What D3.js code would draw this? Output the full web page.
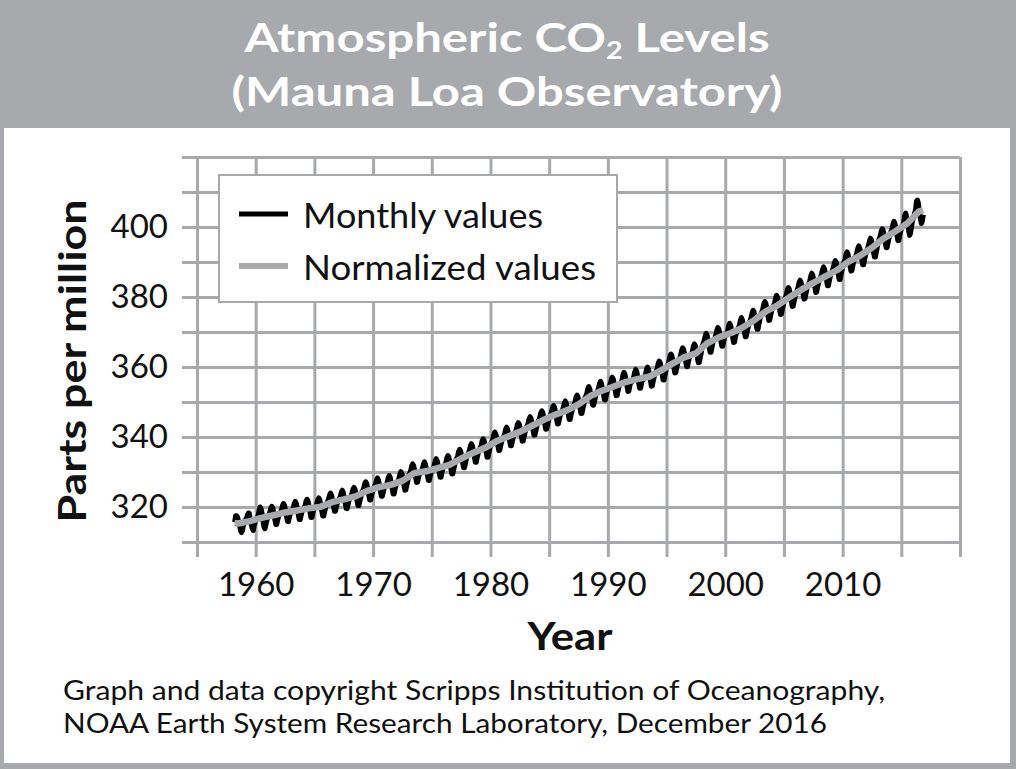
<!DOCTYPE html>
<html>
<head>
<meta charset="utf-8">
<script src="https://cdn.jsdelivr.net/npm/d3@7"></script>
<style>
  html, body { margin: 0; padding: 0; background: #fff; }
  svg { display: block; }
  text { font-family: Lato, "Open Sans", "DejaVu Sans", sans-serif; }
</style>
</head>
<body>
<svg id="chart" width="1016" height="769"></svg>
<script>
// ---------- DATA ----------
const titleLine1 = ["Atmospheric CO", "2", " Levels"];
const titleLine2 = "(Mauna Loa Observatory)";
const yAxisTitle = "Parts per million";
const xAxisTitle = "Year";
const footnoteLines = [
  "Graph and data copyright Scripps Institution of Oceanography,",
  "NOAA Earth System Research Laboratory, December 2016"
];
const legendLabels = ["Monthly values", "Normalized values"];

const gridYears = [1955,1960,1965,1970,1975,1980,1985,1990,1995,2000,2005,2010,2015,2020];
const xTickLabels = [1960,1970,1980,1990,2000,2010];
const gridPpm = [310,320,330,340,350,360,370,380,390,400,410,420];
const yTickLabels = [320,340,360,380,400];

// Monthly values, starting March 1958
const monthlyStartYear = 1958;
const monthlyStartMonth = 3;
const monthlyPpm = [
  315.7,317.5,317.5,317.1,315.9,314.9,313.2,312.7,313.3,314.7,
  315.6,316.4,316.7,317.7,318.3,318.2,316.5,314.8,313.8,313.3,314.8,315.6,
  316.4,317.0,317.6,319.0,320.0,319.6,318.2,315.9,314.2,313.8,315.0,316.2,
  317.3,317.8,318.6,319.7,320.2,319.7,318.4,316.5,315.0,315.0,316.3,317.3,
  318.1,318.7,319.4,320.5,321.0,320.5,319.2,317.3,315.9,315.8,317.1,318.1,
  318.7,319.2,319.9,321.1,321.6,321.0,319.8,317.8,316.4,316.4,317.6,318.7,
  319.3,319.8,320.5,321.7,322.2,321.7,320.4,318.5,317.0,317.0,318.3,319.3,
  319.7,320.2,321.0,322.1,322.6,322.1,320.8,318.9,317.4,317.4,318.7,319.7,
  321.1,321.6,322.3,323.4,324.0,323.4,322.1,320.2,318.8,318.8,320.0,321.1,
  321.8,322.4,323.1,324.2,324.8,324.2,322.9,321.0,319.6,319.5,320.8,321.9,
  322.7,323.2,324.0,325.1,325.6,325.1,323.8,321.9,320.4,320.4,321.7,322.7,
  324.3,324.8,325.5,326.7,327.2,326.7,325.4,323.5,322.0,322.0,323.3,324.3,
  325.4,325.9,326.6,327.7,328.3,327.7,326.4,324.5,323.1,323.1,324.3,325.4,
  325.7,326.3,327.1,328.4,329.0,328.5,327.1,325.2,323.7,323.7,325.1,326.3,
  326.9,327.5,328.3,329.5,330.1,329.6,328.3,326.3,324.8,324.9,326.2,327.4,
  329.1,329.7,330.5,331.8,332.3,331.8,330.5,328.5,327.0,327.1,328.4,329.6,
  329.6,330.2,331.0,332.3,332.9,332.3,331.0,329.1,327.6,327.6,328.9,330.1,
  330.5,331.1,331.9,333.2,333.8,333.3,331.9,330.0,328.5,328.5,329.9,331.1,
  331.4,332.0,332.8,334.1,334.7,334.2,332.9,330.9,329.4,329.4,330.8,332.0,
  333.3,333.9,334.6,335.9,336.5,336.0,334.7,332.7,331.2,331.2,332.6,333.8,
  334.8,335.4,336.2,337.5,338.1,337.5,336.2,334.3,332.8,332.8,334.2,335.3,
  336.3,336.9,337.6,338.9,339.5,339.0,337.7,335.7,334.2,334.2,335.6,336.8,
  338.2,338.8,339.6,340.8,341.4,340.9,339.6,337.6,336.1,336.2,337.5,338.7,
  339.5,340.1,340.9,342.2,342.8,342.3,340.9,339.0,337.5,337.5,338.9,340.1,
  340.9,341.5,342.3,343.6,344.1,343.6,342.3,340.3,338.8,338.9,340.2,341.4,
  342.6,343.2,344.0,345.2,345.8,345.3,344.0,342.0,340.5,340.6,341.9,343.1,
  344.3,344.9,345.7,346.9,347.5,347.0,345.7,343.7,342.2,342.3,343.6,344.8,
  345.8,346.4,347.2,348.4,349.0,348.5,347.2,345.2,343.7,343.8,345.1,346.3,
  347.0,347.6,348.4,349.7,350.3,349.7,348.4,346.5,345.0,345.0,346.4,347.5,
  348.7,349.3,350.1,351.4,352.0,351.4,350.1,348.2,346.7,346.7,348.1,349.2,
  351.1,351.7,352.5,353.8,354.4,353.8,352.5,350.6,349.1,349.1,350.4,351.6,
  352.6,353.2,354.0,355.3,355.9,355.3,354.0,352.1,350.6,350.6,352.0,353.1,
  353.9,354.5,355.3,356.5,357.1,356.6,355.3,353.3,351.8,351.9,353.2,354.4,
  354.9,355.6,356.4,357.8,358.5,357.9,356.6,354.6,353.0,353.1,354.6,355.8,
  355.7,356.4,357.3,358.6,359.3,358.8,357.4,355.4,353.9,353.9,355.4,356.7,
  356.4,357.1,357.9,359.3,360.0,359.4,358.1,356.1,354.5,354.6,356.1,357.3,
  358.1,358.8,359.7,361.0,361.7,361.2,359.8,357.8,356.3,356.3,357.8,359.1,
  360.2,360.8,361.7,363.1,363.7,363.2,361.9,359.8,358.3,358.4,359.8,361.1,
  361.9,362.6,363.5,364.8,365.5,365.0,363.6,361.6,360.1,360.1,361.6,362.9,
  363.1,363.7,364.6,366.0,366.6,366.1,364.8,362.7,361.2,361.3,362.7,364.0,
  366.0,366.7,367.6,368.9,369.6,369.1,367.7,365.7,364.2,364.2,365.7,367.0,
  367.7,368.4,369.3,370.6,371.3,370.8,369.4,367.4,365.9,365.9,367.4,368.7,
  368.9,369.6,370.4,371.8,372.5,371.9,370.6,368.6,367.0,367.1,368.6,369.8,
  370.5,371.2,372.0,373.4,374.1,373.5,372.2,370.2,368.6,368.7,370.2,371.4,
  372.6,373.3,374.2,375.5,376.2,375.7,374.3,372.3,370.8,370.8,372.3,373.6,
  375.2,375.8,376.7,378.1,378.7,378.2,376.9,374.8,373.3,373.4,374.8,376.1,
  376.9,377.6,378.4,379.8,380.5,379.9,378.6,376.6,375.0,375.1,376.6,377.8,
  379.2,379.8,380.7,382.1,382.7,382.2,380.9,378.8,377.3,377.4,378.8,380.1,
  381.3,381.9,382.8,384.2,384.8,384.3,383.0,380.9,379.4,379.5,380.9,382.2,
  383.2,383.9,384.7,386.1,386.8,386.2,384.9,382.9,381.3,381.4,382.9,384.1,
  385.0,385.7,386.6,387.9,388.6,388.1,386.7,384.7,383.2,383.2,384.7,386.0,
  386.8,387.5,388.4,389.7,390.4,389.9,388.5,386.5,385.0,385.0,386.5,387.8,
  389.3,390.0,390.8,392.2,392.9,392.3,391.0,389.0,387.4,387.5,389.0,390.2,
  391.0,391.7,392.6,393.9,394.6,394.1,392.7,390.7,389.2,389.2,390.7,392.0,
  393.2,393.9,394.8,396.1,396.8,396.3,394.9,392.9,391.4,391.4,392.9,394.2,
  395.9,396.6,397.5,398.8,399.5,399.0,397.6,395.6,394.1,394.1,395.6,396.9,
  398.0,398.7,399.5,400.9,401.6,401.0,399.7,397.7,396.1,396.2,397.7,398.9,
  400.0,400.3,401.5,403.3,404.0,402.8,401.3,398.9,397.6,398.3,400.2,401.9,
  402.5,404.0,404.8,407.4,407.7,406.8,404.4,402.3,401.0,401.6,403.5
];

// Normalized (seasonally adjusted) values
const normYears = [1958.2,1958.5,1959.5,1960.5,1961.5,1962.5,1963.5,1964.5,1965.5,1966.5,1967.5,1968.5,1969.5,
  1970.5,1971.5,1972.5,1973.5,1974.5,1975.5,1976.5,1977.5,1978.5,1979.5,1980.5,1981.5,1982.5,1983.5,1984.5,
  1985.5,1986.5,1987.5,1988.5,1989.5,1990.5,1991.5,1992.5,1993.5,1994.5,1995.5,1996.5,1997.5,1998.5,1999.5,
  2000.5,2001.5,2002.5,2003.5,2004.5,2005.5,2006.5,2007.5,2008.5,2009.5,2010.5,2011.5,2012.5,2013.5,2014.5,
  2015.5,2016.5,2016.85];
const normPpm = [315.4,315.3,315.97,316.91,317.64,318.45,318.99,319.62,320.04,321.38,322.16,323.04,324.62,
  325.68,326.32,327.46,329.68,330.19,331.12,332.03,333.84,335.41,336.84,338.76,340.12,341.48,343.15,344.85,
  346.35,347.61,349.31,351.69,353.20,354.45,355.70,356.54,357.21,358.96,360.97,362.74,363.88,366.84,368.54,
  369.71,371.32,373.45,375.98,377.70,379.98,382.09,384.02,385.83,387.64,390.10,391.85,394.06,396.74,398.81,
  401.01,404.41,404.8];

// ---------- DRAW ----------
const W = 1016, H = 769;
const gray = "#a7a9ac";
const svg = d3.select("#chart");

// frame
svg.append("rect").attr("x",0).attr("y",0).attr("width",W).attr("height",H).attr("fill",gray);
svg.append("rect").attr("x",4).attr("y",128).attr("width",1006).attr("height",635).attr("fill","#fff");

// title
const t1 = svg.append("text").attr("x",507).attr("y",52).attr("text-anchor","middle")
  .attr("fill","#fff").attr("font-weight",700).attr("font-size",41)
  .attr("textLength",525).attr("lengthAdjust","spacingAndGlyphs");
t1.append("tspan").text(titleLine1[0]);
t1.append("tspan").attr("font-size",24).attr("dy",7).text(titleLine1[1]);
t1.append("tspan").attr("dy",-7).text(titleLine1[2]);
svg.append("text").attr("x",507).attr("y",106).attr("text-anchor","middle")
  .attr("fill","#fff").attr("font-weight",700).attr("font-size",41)
  .attr("textLength",551).attr("lengthAdjust","spacingAndGlyphs")
  .text(titleLine2);

// scales
const x = d3.scaleLinear().domain([1955, 2020]).range([197, 960]);
const y = d3.scaleLinear().domain([310, 420]).range([542, 157]);

// vertical grid + x ticks
const xAxis = d3.axisBottom(x).tickValues(gridYears).tickSize(y(310) + 15 - y(420)).tickPadding(16)
  .tickFormat(d => xTickLabels.includes(d) ? String(d) : "");
const gx = svg.append("g").attr("transform", `translate(0,${y(420)})`).call(xAxis);
gx.select(".domain").remove();
gx.selectAll(".tick line").attr("stroke", gray).attr("stroke-width", 3);
gx.selectAll(".tick text").attr("font-size", 33).attr("fill", "#111").attr("font-family","Lato, sans-serif");

// horizontal grid + y ticks
const yAxis = d3.axisLeft(y).tickValues(gridPpm).tickSize(x(2020) - x(1955) + 15).tickPadding(14)
  .tickFormat(d => yTickLabels.includes(d) ? String(d) : "");
const gy = svg.append("g").attr("transform", `translate(${x(2020)},0)`).call(yAxis);
gy.select(".domain").remove();
gy.selectAll(".tick line").attr("stroke", gray).attr("stroke-width", 3);
gy.selectAll(".tick text").attr("font-size", 33).attr("fill", "#111").attr("font-family","Lato, sans-serif");

// legend
const lg = svg.append("g");
lg.append("rect").attr("x",219).attr("y",175).attr("width",398).attr("height",127)
  .attr("fill","#fff").attr("stroke",gray).attr("stroke-width",2);
const legendItems = [
  {label: legendLabels[0], color: "#000", w: 5, yy: 214, tl: 240},
  {label: legendLabels[1], color: gray, w: 6, yy: 266, tl: 293}
];
legendItems.forEach(it => {
  lg.append("line").attr("x1",239).attr("x2",288).attr("y1",it.yy).attr("y2",it.yy)
    .attr("stroke",it.color).attr("stroke-width",it.w);
  lg.append("text").attr("x",303).attr("y",it.yy+14).attr("font-size",34).attr("fill","#111")
    .attr("textLength",it.tl).attr("lengthAdjust","spacingAndGlyphs").text(it.label);
});

// data lines
const monthly = monthlyPpm.map((v,i) => ({t: monthlyStartYear + (monthlyStartMonth - 1 + i + 0.5)/12, v}));
const norm = normYears.map((t,i) => ({t, v: normPpm[i]}));
const line = d3.line().x(d => x(d.t)).y(d => y(d.v));
svg.append("path").datum(monthly).attr("d", line).attr("fill","none")
  .attr("stroke","#000").attr("stroke-width",5).attr("stroke-linejoin","round");
svg.append("path").datum(norm).attr("d", line).attr("fill","none")
  .attr("stroke",gray).attr("stroke-width",6.5).attr("stroke-linejoin","round");

// axis titles
svg.append("text").attr("transform","translate(86,361) rotate(-90)").attr("text-anchor","middle")
  .attr("font-weight",700).attr("font-size",38).attr("fill","#111")
  .attr("textLength",323).attr("lengthAdjust","spacingAndGlyphs").text(yAxisTitle);
svg.append("text").attr("x",570).attr("y",650).attr("text-anchor","middle")
  .attr("font-weight",700).attr("font-size",39).attr("fill","#111")
  .attr("textLength",85).attr("lengthAdjust","spacingAndGlyphs").text(xAxisTitle);

// footnote
const fnWidths = [822, 764];
footnoteLines.forEach((s,i) => {
  svg.append("text").attr("x",63).attr("y",700 + i*33).attr("font-size",26).attr("fill","#111")
    .attr("textLength",fnWidths[i]).attr("lengthAdjust","spacingAndGlyphs").text(s);
});
</script>
</body>
</html>
